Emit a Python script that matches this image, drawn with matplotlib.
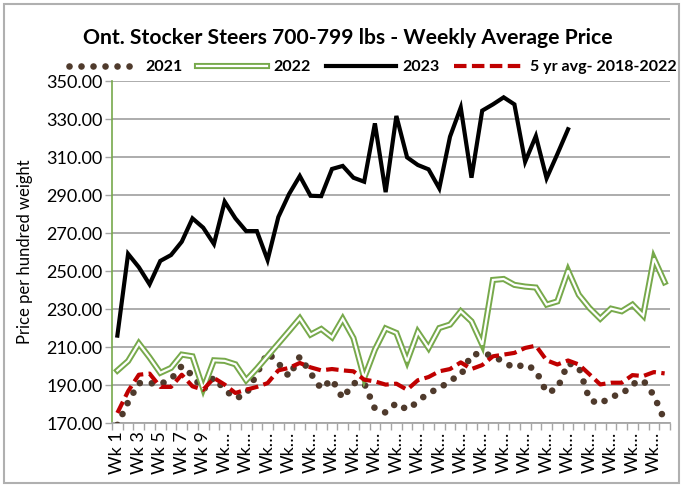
import matplotlib
matplotlib.use("Agg")
import matplotlib.pyplot as plt
import matplotlib.patheffects as pe
from matplotlib.patches import Rectangle

plt.rcParams['font.family'] = ['Lato', 'DejaVu Sans']

weeks = [f"Wk {i}" for i in range(1, 53)]

y2021 = [169, 181, 191, 191, 190.5, 193, 200, 195, 187.4, 194,
         187.5, 183, 185, 196, 207, 201.5, 194.5, 205, 196.3, 188,
         193, 183, 191, 191, 177.5, 175.5, 180.5, 177, 181.2, 186,
         188, 192.5, 195, 206, 206.5, 205.5, 202, 199, 201, 197.7,
         186, 188, 201.5, 199.5, 182.2, 180, 184, 185, 190.5, 192.5,
         184.5, 171.3]

y2022 = [197.6, 202.6, 211.9, 204.5, 196.4, 199, 206, 205.1, 188, 203,
         202.7, 200.9, 192.5, 198.6, 205.2, 211.8, 218.4, 225.1, 216.5, 219.5,
         215.1, 224.8, 214.7, 193.7, 208.6, 219.8, 217.4, 202.5, 217.9, 209.5,
         220, 221.8, 228.8, 223.5, 211.2, 245.3, 245.8, 242.7, 241.8, 241.3,
         232.3, 234, 250.2, 237.5, 230.5, 224.9, 230.2, 228.8, 232.3, 226.5,
         256.6, 244.1]

y2023 = [216, 259, 252, 243, 255.3, 258.4, 265.4, 277.7, 272.8, 264.2,
         286.5, 277.7, 271, 271, 255.8, 278.4, 290.5, 300, 289.6, 289.4,
         303.7, 305.3, 299.1, 297, 327.7, 291.5, 331.6, 309.8, 305.8, 303.5,
         293.5, 320.7, 336, 299.1, 334.4, 337.7, 341.4, 337.7, 307.5, 321,
         298.8, 311.5, 324.6]

y5yr = [175.3, 186.7, 195.4, 196, 189, 189, 195.4, 189.3, 187.5, 193.7,
        190.2, 185.8, 187.5, 189, 191, 197.7, 199, 201.6, 199.3, 197.7,
        198.4, 197.7, 197.2, 192.8, 191.9, 190.2, 190.7, 187.5, 192.5, 194.2,
        197.2, 198.4, 201.9, 198.4, 200.5, 205.1, 206, 206.9, 209.5, 210.7,
        203, 200.8, 202.9, 200.8, 195.6, 190.3, 191.2, 191.2, 195.2, 194.7,
        196.8, 196.1]

tick_labels = ["Wk 1", "Wk 3", "Wk 5", "Wk 7", "Wk 9"] + ["Wk…"] * 21
yticks = [170, 190, 210, 230, 250, 270, 290, 310, 330, 350]

W, H = 683, 487
fig = plt.figure(figsize=(W / 100, H / 100), dpi=100)
ax = fig.add_axes([112 / W, 1 - 423 / H, (670 - 112) / W, (423 - 81) / H])

x = list(range(52))
GREEN = '#77a94b'
BROWN = '#4f3a2c'
RED = '#c00000'

l21, = ax.plot(x[:len(y2021)], y2021, color=BROWN, lw=4.8,
               linestyle=(0, (0.001, 1.8)), dash_capstyle='round', zorder=3,
               label="2021")
l22, = ax.plot(x[:len(y2022)], y2022, color='white', lw=1.6,
               solid_joinstyle='miter', zorder=4, label="2022",
               path_effects=[pe.Stroke(linewidth=4.4, foreground=GREEN,
                                       joinstyle='miter'),
                             pe.Normal()])
l23, = ax.plot(x[:len(y2023)], y2023, color='black', lw=3.0,
               solid_joinstyle='miter', zorder=5, label="2023")
l5, = ax.plot(x[:len(y5yr)], y5yr, color=RED, lw=3.0,
              linestyle=(0, (3.0, 1.3)), zorder=4.5,
              label="5 yr avg- 2018-2022")

ax.set_ylim(170, 350)
ax.set_xlim(-0.5, 51.5)
ax.set_yticks(yticks)
ax.set_yticklabels([f"{v:.2f}" for v in yticks], fontsize=13)
ax.yaxis.grid(True, color='#a6a6a6', lw=1.3)
ax.set_axisbelow(True)

ax.set_xticks(list(range(0, 52, 2)))
ax.set_xticklabels(tick_labels, rotation=90, fontsize=13)
ax.set_xticks([i - 0.5 for i in range(53)], minor=True)
ax.tick_params(axis='x', which='major', length=0, pad=6)
ax.tick_params(axis='x', which='minor', length=5, color='#a6a6a6', width=1)
ax.tick_params(axis='y', length=5, color='#a6a6a6', width=1, pad=2)

for s in ['top', 'right']:
    ax.spines[s].set_visible(False)
ax.spines['left'].set_color(GREEN)
ax.spines['left'].set_linewidth(1.2)
ax.spines['bottom'].set_color('#a6a6a6')
ax.spines['bottom'].set_linewidth(1.3)

ax.set_ylabel("Price per hundred weight", fontsize=12, labelpad=9)

fig.text(348 / W, 1 - 38 / H, "Ont. Stocker Steers 700-799 lbs - Weekly Average Price",
         ha='center', va='center', fontsize=15.2, fontweight='bold')

leg = fig.legend([l21, l22, l23, l5],
                 ["2021", "2022", "2023", "5 yr avg- 2018-2022"],
                 loc='center', ncol=4, frameon=False,
                 bbox_to_anchor=(373 / W, 1 - 67 / H),
                 prop={'size': 11.5, 'weight': 'bold'},
                 handlelength=4.4, handletextpad=0.4, columnspacing=0.9)

fig.patches.append(Rectangle((4 / W, 4 / H), (W - 8) / W, (H - 8) / H,
                             transform=fig.transFigure, fill=False,
                             edgecolor='#b0b0b0', lw=1.5))

fig.savefig("out.png", dpi=100)
